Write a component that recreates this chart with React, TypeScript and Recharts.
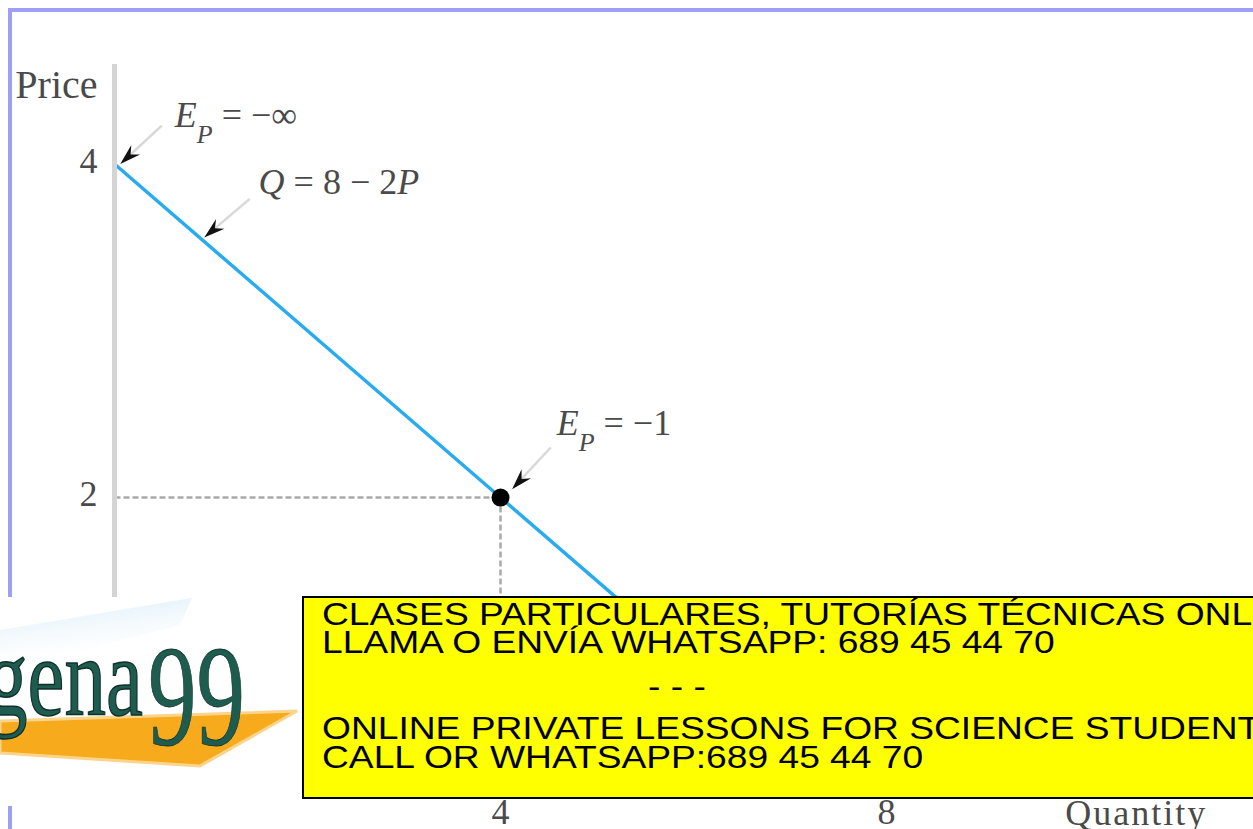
import React from "react";
import { LineChart, Line, XAxis, YAxis, ReferenceLine, ReferenceDot } from "recharts";

// demand curve Q = 8 - 2P
const quantity = [0, 4, 8];
const price = [4, 2, 0];
const priceTicks = [2, 4];
const quantityTicks = [4, 8];
const unitElastic = { q: 4, p: 2 };

// annotation pointers, [from, to] in (quantity, price)
const pointerInfinity = [{ x: 0.49, y: 4.23 }, { x: 0.06, y: 4.0 }];
const pointerCurve = [{ x: 1.4, y: 3.79 }, { x: 0.93, y: 3.56 }];
const pointerUnit = [{ x: 4.52, y: 2.3 }, { x: 4.12, y: 2.05 }];

const bannerTop = ["CLASES PARTICULARES, TUTORÍAS TÉCNICAS ONLINE", "LLAMA O ENVÍA WHATSAPP: 689 45 44 70"];
const bannerBottom = ["ONLINE PRIVATE LESSONS FOR SCIENCE STUDENTS", "CALL OR WHATSAPP:689 45 44 70"];

const SERIF = '"Liberation Serif", "Times New Roman", serif';
const SANS = '"Liberation Sans", Arial, sans-serif';
const TEXT_GRAY = "#4a4a4a";

const demand = quantity.map((q, i) => ({ q, p: price[i] }));

const epLabel = (rest: string) => (
    <>
        <tspan fontStyle="italic">E</tspan>
        <tspan fontStyle="italic" fontSize={26} dy={16}>
            P
        </tspan>
        <tspan dy={-16}>{rest}</tspan>
    </>
);

const curveLabel = (
    <>
        <tspan fontStyle="italic">Q</tspan>
        <tspan>{"\u00a0=\u00a08\u00a0\u2212\u00a02"}</tspan>
        <tspan fontStyle="italic">P</tspan>
    </>
);

function makePointer(label: React.ReactNode, dx: number, dy: number) {
    return (props: any) => {
        const { x1, y1, x2, y2 } = props;
        const a = Math.atan2(y2 - y1, x2 - x1);
        const ux = Math.cos(a);
        const uy = Math.sin(a);
        const px = -uy;
        const py = ux;
        const head = 21;
        const wing = 6.5;
        const notch = 14;
        const bx = x2 - ux * head;
        const by = y2 - uy * head;
        const nx = x2 - ux * notch;
        const ny = y2 - uy * notch;
        const pts = `${x2},${y2} ${bx + px * wing},${by + py * wing} ${nx},${ny} ${bx - px * wing},${by - py * wing}`;
        return (
            <g>
                <line x1={x1} y1={y1} x2={nx} y2={ny} stroke="#d9d9d9" strokeWidth={2.5} />
                <polygon points={pts} fill="#111" />
                <text x={x1 + dx} y={y1 + dy} fontFamily={SERIF} fontSize={36} fill={TEXT_GRAY}>
                    {label}
                </text>
            </g>
        );
    };
}

const Overlay = () => (
    <svg width={1253} height={829} style={{ position: "absolute", left: 0, top: 0 }}>
        <defs>
            <linearGradient id="skyFade" x1="0" y1="0" x2="0.3" y2="1">
                <stop offset="0" stopColor="#d3eaf8" stopOpacity={1} />
                <stop offset="1" stopColor="#ffffff" stopOpacity={0} />
            </linearGradient>
        </defs>
        {/* page frame */}
        <rect x={8} y={8} width={1245} height={4} fill="#9f9ff7" />
        <rect x={8} y={8} width={4} height={821} fill="#9f9ff7" />

        {/* logo */}
        <rect x={0} y={597} width={301} height={209} fill="#fff" />
        <polygon points="0,630 192,598 180,625 0,672" fill="url(#skyFade)" />
        <polygon points="0,721 297,711 200,766 0,753" fill="#f6aa1c" stroke="#fbd48c" strokeWidth={3} />
        <text
            x={-14}
            y={715}
            fontFamily={SERIF}
            fontSize={112}
            textLength={157}
            lengthAdjust="spacingAndGlyphs"
            fill="#1e5c50"
            stroke="#0f2f28"
            strokeWidth={1.5}
        >
            gena
        </text>
        <text
            x={148}
            y={745}
            fontFamily={SERIF}
            fontSize={145}
            textLength={97}
            lengthAdjust="spacingAndGlyphs"
            fill="#1e5c50"
            stroke="#0f2f28"
            strokeWidth={0.8}
        >
            99
        </text>

        {/* banner */}
        <rect x={303} y={597} width={1000} height={201} fill="#ffff00" stroke="#000" strokeWidth={2} />
        <g transform="translate(322,0) scale(1.162,1)" fontFamily={SANS} fontSize={32} fill="#000">
            <text x={0} y={625}>{bannerTop[0]}</text>
            <text x={0} y={653}>{bannerTop[1]}</text>
            <text x={305.5} y={697} textAnchor="middle">
                - - -
            </text>
            <text x={0} y={739}>{bannerBottom[0]}</text>
            <text x={0} y={768}>{bannerBottom[1]}</text>
        </g>
    </svg>
);

export default function App() {
    return (
        <div
            style={{
                position: "fixed",
                left: 0,
                top: 0,
                width: 1253,
                height: 829,
                overflow: "hidden",
                background: "#fff",
            }}
        >
            <div style={{ position: "absolute", left: 0, top: 0 }}>
                <LineChart
                    width={1253}
                    height={829}
                    data={demand}
                    margin={{ top: 64, right: 28.75, left: 34.5, bottom: 0 }}
                >
                    <XAxis
                        type="number"
                        dataKey="q"
                        domain={[0, 11.5]}
                        ticks={quantityTicks}
                        height={31.35}
                        axisLine={false}
                        tickLine={false}
                        tickSize={0}
                        tickMargin={1}
                        tick={{ fontFamily: SERIF, fontSize: 36, fill: TEXT_GRAY }}
                        label={{
                            value: "Quantity",
                            position: "insideBottomRight",
                            offset: 4,
                            dx: -13,
                            fontFamily: SERIF,
                            fontSize: 36,
                            letterSpacing: 2,
                            fill: TEXT_GRAY,
                        }}
                    />
                    <YAxis
                        type="number"
                        domain={[0.2, 4.6]}
                        allowDataOverflow
                        ticks={priceTicks}
                        width={80}
                        axisLine={{ stroke: "#d4d4d4", strokeWidth: 5 }}
                        tickLine={false}
                        tickSize={0}
                        tickMargin={17}
                        tick={{ fontFamily: SERIF, fontSize: 36, fill: TEXT_GRAY, dy: -4 }}
                        label={{
                            value: "Price",
                            position: "insideTopRight",
                            offset: 17,
                            dy: -11,
                            fontFamily: SERIF,
                            fontSize: 40,
                            fill: TEXT_GRAY,
                        }}
                    />
                    <ReferenceLine
                        segment={[
                            { x: 0, y: unitElastic.p },
                            { x: unitElastic.q, y: unitElastic.p },
                        ]}
                        stroke="#a9a9a9"
                        strokeWidth={2.5}
                        strokeDasharray="6 3"
                    />
                    <ReferenceLine
                        segment={[
                            { x: unitElastic.q, y: unitElastic.p },
                            { x: unitElastic.q, y: 0.2 },
                        ]}
                        stroke="#a9a9a9"
                        strokeWidth={2.5}
                        strokeDasharray="6 3"
                    />
                    <Line
                        type="linear"
                        dataKey="p"
                        stroke="#29abf0"
                        strokeWidth={3.5}
                        dot={false}
                        activeDot={false}
                        isAnimationActive={false}
                    />
                    <ReferenceDot x={unitElastic.q} y={unitElastic.p} r={9} fill="#000" stroke="none" />
                    <ReferenceLine segment={pointerInfinity} shape={makePointer(epLabel("\u00a0=\u00a0\u2212\u221e"), 13, 1)} />
                    <ReferenceLine segment={pointerCurve} shape={makePointer(curveLabel, 9, -5)} />
                    <ReferenceLine segment={pointerUnit} shape={makePointer(epLabel("\u00a0=\u00a0\u22121"), 6, -12)} />
                </LineChart>
            </div>
            <Overlay />
        </div>
    );
}
